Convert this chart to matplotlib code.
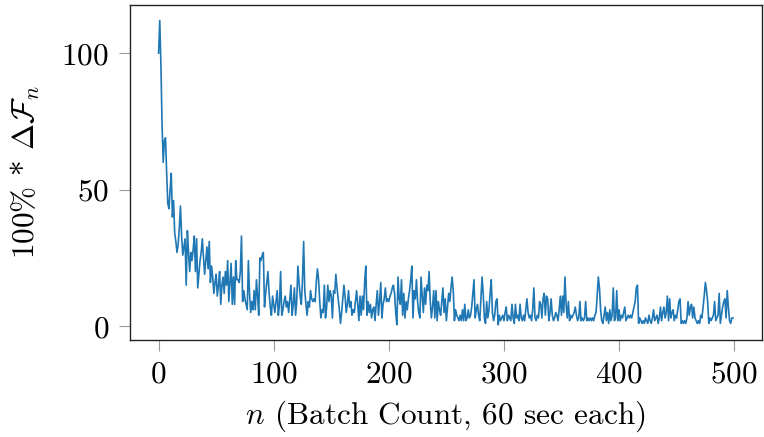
import numpy as np
import matplotlib.pyplot as plt

# valores (100% * Delta F_n), por tramos de n
tramo_0_64 = [100, 112, 96, 74, 60, 68, 69, 56, 45, 43,
              50, 56, 40, 46, 34, 31, 27, 30, 36, 44,
              33, 26, 29, 32, 15, 35, 27, 20, 27, 24,
              28, 33, 20, 32, 14, 19, 24, 27, 32, 25,
              19, 24, 29, 21, 31, 16, 22, 18, 12, 16,
              19, 11, 15, 20, 8, 15, 18, 12, 20, 15,
              24, 9, 16, 23, 8]
tramo_65_149 = [18, 8, 24, 17, 17, 16, 20, 33, 9, 13,
                10, 8, 6, 24, 12, 5, 9, 6, 13, 6, 17, 11, 4, 25, 24,
                26, 27, 7, 12, 16, 20, 12, 7, 4, 11,
                8, 5, 9, 13, 4, 8, 20, 4, 6, 9,
                11, 7, 9, 5, 10, 15, 4, 8, 14, 4,
                9, 22, 16, 11, 8, 17, 31, 13, 8, 4,
                9, 7, 13, 10, 9, 10, 9, 16, 21, 17,
                9, 3, 6, 5, 15, 3, 7, 15, 9, 13]
tramo_150_229 = [11, 3, 13, 12, 19, 14, 10, 6, 1, 5,
                 10, 15, 11, 5, 8, 13, 7, 9, 4, 6,
                 5, 9, 13, 8, 2, 11, 4, 11, 6, 16,
                 22, 4, 9, 5, 8, 3, 6, 7, 2, 8,
                 13, 4, 9, 16, 3, 8, 10, 14, 9, 10,
                 9, 11, 12, 14, 15, 12, 5, 0.5, 18, 10,
                 8, 17, 4, 12, 3, 9, 6, 10, 13, 17,
                 22, 3, 13, 10, 17, 9, 5, 3, 18, 11]
tramo_230_309 = [5, 14, 8, 15, 13, 20, 9, 3, 7, 13,
                 3, 13, 2, 9, 6, 4, 9, 14, 5, 10,
                 2, 7, 12, 9, 14, 18, 13, 2, 6, 4,
                 3, 2, 4, 2, 6, 2, 8, 2, 3, 6,
                 3, 4, 7, 12, 17, 3, 6, 8, 4, 2,
                 10, 18, 12, 3, 1, 9, 3, 6, 12, 17,
                 5, 2, 4, 9, 10, 0.5, 4, 2, 3, 4,
                 2, 5, 7, 2, 4, 3, 2, 8, 3, 1]
tramo_310_389 = [8, 3, 4, 2, 8, 3, 2, 4, 2, 6,
                 10, 5, 3, 4, 2, 6, 14, 3, 2, 4,
                 3, 9, 8, 3, 10, 12, 4, 11, 10, 2,
                 5, 10, 4, 2, 3, 5, 4, 2, 6, 11,
                 4, 11, 5, 18, 8, 3, 9, 2, 4, 3,
                 4, 5, 7, 4, 2, 3, 9, 2, 3, 2,
                 3, 9, 2, 3, 2, 3, 2, 3, 2, 4,
                 5, 11, 18, 14, 6, 2, 1, 4, 7, 2]
tramo_390_499 = [5, 1, 6, 2, 4, 14, 2, 3, 13, 2,
                 6, 2, 4, 3, 5, 7, 2, 3, 4, 3,
                 4, 3, 5, 7, 9, 14, 15, 1, 3, 2,
                 1, 2, 1, 3, 2, 1, 4, 2, 1, 3,
                 6, 2, 3, 4, 1, 3, 7, 2, 5, 7,
                 3, 5, 11, 2, 10, 3, 5, 6, 2, 4,
                 3, 6, 9, 10, 1, 2, 1, 2, 1, 3,
                 9, 4, 7, 8, 3, 7, 3, 2, 1, 2,
                 1, 4, 3, 7, 11, 16, 13, 9, 1, 3,
                 2, 3, 4, 9, 2, 3, 4, 12, 1, 4,
                 7, 9, 10, 3, 13, 7, 2, 1, 3, 3]

delta_f = np.array(tramo_0_64 + tramo_65_149 + tramo_150_229
                   + tramo_230_309 + tramo_310_389 + tramo_390_499, dtype=float)
n = np.arange(len(delta_f))

plt.rcParams['font.family'] = 'serif'
plt.rcParams['font.serif'] = ['cmr10']
plt.rcParams['mathtext.fontset'] = 'cm'
plt.rcParams['axes.formatter.use_mathtext'] = True

fig = plt.figure(figsize=(7.64, 4.37), dpi=100)
ax = fig.add_axes([0.170, 0.222, 0.827, 0.766])

ax.plot(n, delta_f, color='#1f77b4', linewidth=1.2)

ax.set_xticks([0, 100, 200, 300, 400, 500])
ax.set_yticks([0, 50, 100])
ax.tick_params(axis='both', labelsize=22.5, length=8, width=0.8,
               color='#999999', pad=7, direction='out')
for sp in ax.spines.values():
    sp.set_color('#222222')
    sp.set_linewidth(1.0)

ax.set_xlabel(r'$n$ (Batch Count, 60 sec each)', fontsize=22.5, labelpad=7)
ax.set_ylabel(r'100% * $\Delta\mathcal{F}_n$', fontsize=22.5, labelpad=14)

fig.savefig('out.png', dpi=100)
